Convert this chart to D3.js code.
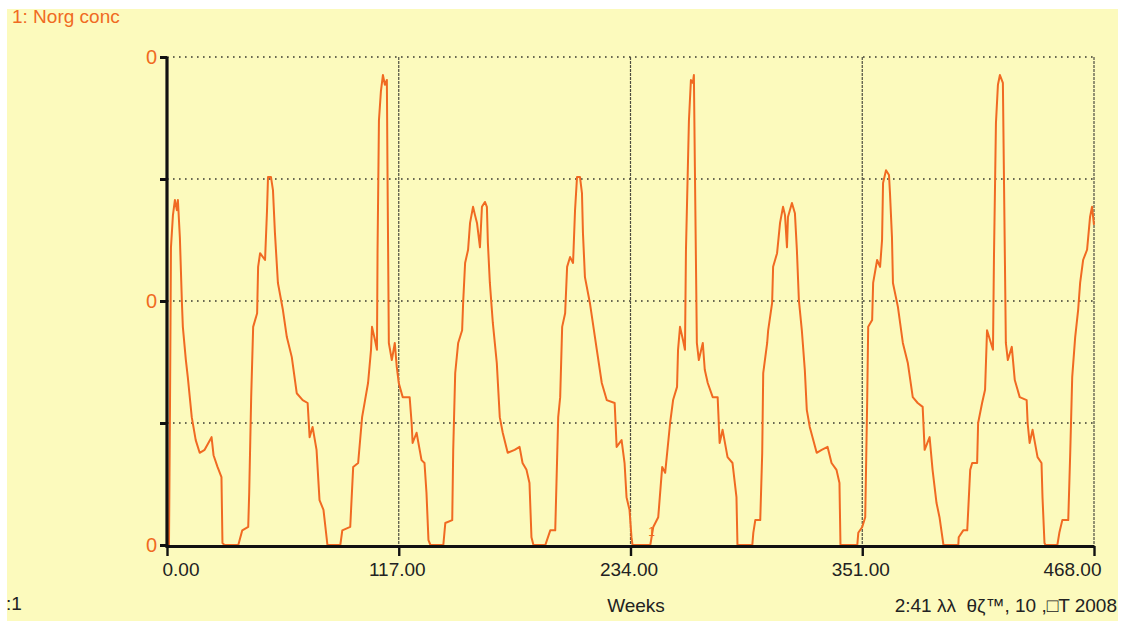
<!DOCTYPE html>
<html>
<head>
<meta charset="utf-8">
<script src="https://cdn.jsdelivr.net/npm/d3@7"></script>
<style>
  html, body { margin: 0; padding: 0; background: #ffffff; }
  svg { display: block; font-family: "Liberation Sans", Arial, sans-serif; }
  text { white-space: pre; }
</style>
</head>
<body>
<svg id="chart" width="1126" height="626"></svg>
<script>
// ---- data ----
const seriesName = "1: Norg conc";
const xTickValues = [0, 117, 234, 351, 468];
const xTickLabels = ["0.00", "117.00", "234.00", "351.00", "468.00"];
const yTickValues = [0, 25, 50, 75, 100];
const yTickLabels = ["0", "", "0", "", "0"];
const xAxisTitle = "Weeks";
const footerLeft = ":1";
const footerRight = "2:41 λλ  θζ™, 10 ,□T 2008";

// [week, value as % of axis top]
const normConcPoints = [
  [0,0],[1,0],[1.5,27.7],[2,61],[3,67.6],[4,70.7],[5,68.6],[5.5,70.7],[6.5,63],[7.5,50],[8,44.7],[9.5,38],[10.5,34.4],[12.5,26.2],[14.5,21.5],[16.5,18.9],[19,19.5],[22.5,22.1],[23.5,18.4],[25.5,16],[27.5,13.9],[28,0.4],[29,0],
  [36,0],[38,3],[41,3.7],[41.5,10.7],[42.5,30.3],[43.5,44.7],[45.5,47.5],[46,57],[47,59.8],[49.5,58.4],[50.5,68.6],[51,75.4],[52.5,75.4],[53.5,72.7],[54.5,63.9],[56,53.7],[58.5,48.2],[60.5,42.6],[63,38.5],[65.5,31.1],[68.5,29.7],[71,29.1],[72,22.1],[73.5,24.2],[75.5,19.5],[77,9.2],[79,7.2],[81,0],
  [87.5,0],[88.5,3],[92.5,3.7],[94,16],[96.5,16.8],[98.5,26.2],[100,29.7],[101.5,33.2],[103,40],[103.5,44.7],[105,42],[106,40],[106.3,60.5],[107,87],[108,93],[109,96.3],[110,94.3],[111,95.3],[111.3,77.5],[112,41.4],[113.5,37.9],[115,41.4],[116,36.5],[117,33.2],[119,30.3],[122.5,30.3],[123.5,25],[124,20.9],[126,23],[128.5,17.4],[130,16.8],[131,10.7],[132,1],[133,0],
  [139.5,0],[140.5,4.5],[144,5.1],[144.5,19.5],[145.5,35.2],[147,41.4],[149,44],[149.5,49.6],[150.5,57.8],[152,60.5],[153,66],[154.5,69.3],[155.5,67.6],[156.5,66],[158,61],[159,69.3],[160.5,70.3],[161.5,69.3],[162,61.9],[163,53.7],[164.5,45.5],[166.5,37.3],[168,26.2],[169.5,23],[172,18.9],[175.5,19.5],[178,20.1],[179.5,16.8],[181.5,15.4],[183,12.7],[184,1.6],[185,0],
  [191,0],[193.5,3],[196,3],[197.5,26.2],[198.5,30.3],[199.5,44.7],[201,47.5],[202,57],[203.5,59],[205,57.8],[206,68.6],[207,75.4],[208.5,75.4],[209.5,72.1],[210,63.9],[211,54.9],[213.5,49.6],[217,40],[219.5,33.2],[222,29.7],[226,29.1],[227,20.1],[229.5,21.5],[231,16.8],[232,9.8],[233.5,7.2],[234.5,1.6],[235,0],
  [244,0],[245.5,3.7],[248,5.7],[250,16],[251.5,14.8],[254,25],[255.5,29.7],[257.5,32.4],[258,40],[259,44.7],[260.5,42],[261.5,40],[262,60.5],[263.5,87],[264.5,95.3],[265.5,94.7],[266,96.3],[266.5,77.5],[267.5,41.4],[268.5,37.9],[270.5,41.4],[271.5,35.9],[273,33.2],[275.5,30.3],[278,30.3],[279,20.9],[280.5,23.6],[283,18],[285.5,16.8],[287.5,9.8],[288,0],
  [295.5,0],[296,2.5],[297,5.1],[299.5,5.1],[300.5,18.9],[301,35.2],[303,41.4],[303.5,44],[305.5,49.6],[306,57],[308,59.8],[309.5,66],[311,69.3],[312,67.6],[313,61],[313.5,67.2],[315.5,70.1],[317,68],[318,60.5],[319,50.2],[320.5,44],[322,35.9],[323,27.7],[324.5,24.2],[328,18.9],[330.5,19.5],[333.5,20.1],[335.5,16.8],[338,15.4],[339.5,12.7],[340,0],
  [348.5,0],[349,2.5],[351,3.7],[352.5,5.7],[353.5,29.7],[354,44.7],[356,46.1],[356.5,53.7],[358.5,58.4],[360,57],[361,62.5],[361.5,74.2],[363,76.8],[364.5,75.8],[365,72.1],[366,63.1],[366.5,53.7],[369,48.8],[371.5,41.4],[374,37.3],[376.5,30.3],[379,29.1],[381.5,28.3],[382.5,19.5],[385,22.1],[386.5,15.4],[388.5,8.6],[390,5.7],[392,0],
  [399.5,0],[399.7,1.6],[402,3],[404,3],[405.5,15.4],[406.5,16.8],[409,16.8],[409.5,25],[411.5,29.1],[413,31.8],[414,44],[415.5,42],[417,40],[417.5,59],[418.5,86.5],[419.5,94.3],[420.5,96.3],[422,94.7],[422.5,76.8],[423.5,41.4],[424.5,37.9],[426.5,40.6],[428,33.8],[430.5,30.3],[434,29.7],[434.5,25],[435.5,20.9],[437,23.6],[439.5,18],[441.5,16.8],[442,9.8],[443,0.4],[443.5,0],
  [449.5,0],[450.5,2.5],[452,5.1],[455,5.1],[456,18.9],[457,34.4],[458.5,42.6],[460,48.2],[461,53.7],[462.5,58.4],[464.5,60.5],[466,67.2],[467,69.3],[468,65.6]
];
const seriesLabelPoint = [245, 0]; // where the small "1" marker sits

// ---- drawing ----
const svg = d3.select("#chart");
const x = d3.scaleLinear().domain([0, 468]).range([167, 1094]);
const y = d3.scaleLinear().domain([0, 100]).range([545, 57]);

const orange = "#f06a22";

svg.append("rect").attr("x", 7).attr("y", 9).attr("width", 1111).attr("height", 612)
  .attr("fill", "#fcfabd");

// horizontal dotted gridlines
svg.append("g").selectAll("line").data(yTickValues.filter(v => v > 0)).join("line")
  .attr("x1", x(0)).attr("x2", x(468))
  .attr("y1", d => y(d)).attr("y2", d => y(d))
  .attr("stroke", "#3a3a30").attr("stroke-width", 1.6)
  .attr("stroke-dasharray", "1.6,4.4");

// vertical gridlines
svg.append("g").selectAll("line").data(xTickValues.filter(v => v > 0)).join("line")
  .attr("x1", d => x(d)).attr("x2", d => x(d))
  .attr("y1", y(100)).attr("y2", y(0))
  .attr("stroke", "#4d4d40").attr("stroke-width", 1.2)
  .attr("stroke-dasharray", "3,1");

// series line
const line = d3.line().x(d => x(d[0])).y(d => y(d[1]));
svg.append("path").datum(normConcPoints)
  .attr("d", line).attr("fill", "none")
  .attr("stroke", orange).attr("stroke-width", 2)
  .attr("stroke-linejoin", "round");

svg.append("text").attr("x", x(seriesLabelPoint[0]) - 4).attr("y", y(seriesLabelPoint[1]) - 9)
  .attr("fill", orange).attr("font-size", 12).text("1");

// x axis
const xAxis = d3.axisBottom(x).tickValues(xTickValues)
  .tickFormat((d, i) => xTickLabels[i]).tickSize(10).tickSizeOuter(0).tickPadding(7);
const gx = svg.append("g").attr("transform", `translate(0,${y(0) + 1})`).call(xAxis);
gx.select(".domain").attr("stroke", "#111").attr("stroke-width", 3.2);
gx.selectAll(".tick line").attr("stroke", "#111").attr("stroke-width", 2.4);
gx.selectAll(".tick text")
  .attr("fill", "#222").attr("font-size", 19)
  .attr("font-family", "Liberation Sans, Arial, sans-serif")
  .attr("text-anchor", (d, i) => i === 0 ? "start" : (i === xTickValues.length - 1 ? "end" : "middle"))
  .attr("dx", (d, i) => i === 0 ? -5 : (i === xTickValues.length - 1 ? 7 : -2));

// y axis
const yAxis = d3.axisLeft(y).tickValues(yTickValues)
  .tickFormat((d, i) => yTickLabels[i]).tickSize(7).tickSizeOuter(0).tickPadding(3);
const gy = svg.append("g").attr("transform", `translate(${x(0)},0)`).call(yAxis);
gy.select(".domain").attr("stroke", "#111").attr("stroke-width", 3.2)
  .attr("d", `M0,${y(100)}V${y(0) + 3}`);
gy.selectAll(".tick line").attr("stroke", "#111").attr("stroke-width", 3);
gy.selectAll(".tick text").attr("fill", orange).attr("font-size", 20)
  .attr("font-family", "Liberation Sans, Arial, sans-serif");

// texts
svg.append("text").attr("x", 12).attr("y", 23).attr("fill", orange)
  .attr("font-size", 19).text(seriesName);
svg.append("text").attr("x", 636).attr("y", 612).attr("text-anchor", "middle")
  .attr("fill", "#222").attr("font-size", 19).text(xAxisTitle);
svg.append("text").attr("x", 6).attr("y", 610).attr("fill", "#222")
  .attr("font-size", 19).text(footerLeft);
svg.append("text").attr("x", 1117).attr("y", 612).attr("text-anchor", "end")
  .attr("fill", "#222").attr("font-size", 19).text(footerRight);
</script>
</body>
</html>
